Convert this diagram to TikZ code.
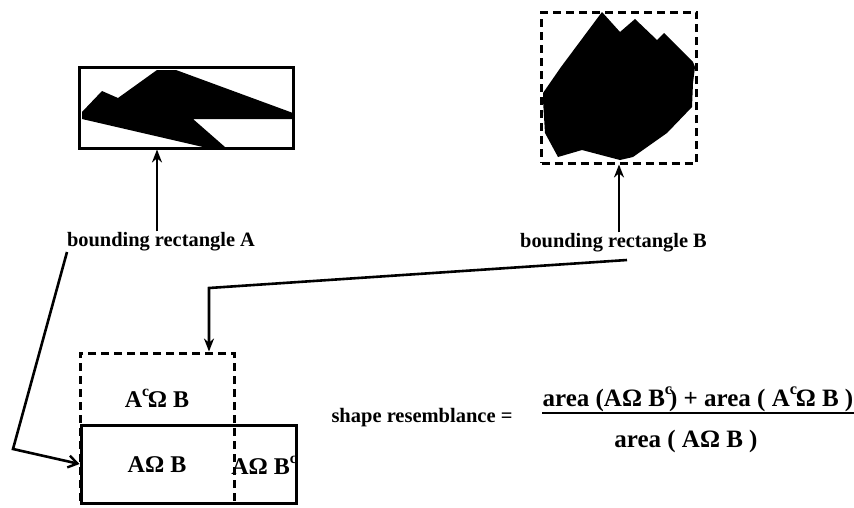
\documentclass[tikz,border=0pt]{standalone}
\usepackage{fontspec}
\setmainfont{Liberation Serif}
\usetikzlibrary{arrows.meta}

\newcommand{\capsym}{Ω}
% raised complement mark
\newcommand{\csup}{\raisebox{0.45em}{\fontsize{0.65em}{0.75em}\selectfont c}}
% raised complement mark that takes no width
\newcommand{\cmark}{\rlap{\raisebox{0.45em}{\fontsize{0.65em}{0.75em}\selectfont c}}}

\begin{document}
\begin{tikzpicture}[x=1pt,y=-1pt,
  frame/.style={draw, line width=3pt, inner sep=0pt},
  dashframe/.style={draw, line width=3pt, dash pattern=on 8pt off 5pt, inner sep=0pt},
  blob/.style={fill=black},
  lead/.style={line width=2.6pt, -{Stealth[length=13pt,width=10pt]}},
  barb/.style={line width=2.6pt, -{Straight Barb[length=9pt,width=12pt,line width=2.4pt]}},
  lbl/.style={font=\fontsize{20.4}{24}\selectfont\bfseries, inner sep=1pt},
  region/.style={font=\fontsize{24}{28}\selectfont\bfseries, inner sep=0pt},
  eqtext/.style={font=\fontsize{20.5}{24}\selectfont\bfseries, inner sep=0pt},
  fractext/.style={font=\fontsize{25}{30}\selectfont\bfseries, inner sep=0pt, anchor=base}]
\useasboundingbox (0,0) rectangle (854,507);

% shape A inside its bounding rectangle
\fill[blob] (82,112) -- (102,91) -- (118,98) -- (157,70) -- (176,70)
  -- (293,113) -- (293,119) -- (193,119) -- (225,147) -- (203,147)
  -- (82,119) -- cycle;
\node[frame, minimum width=214pt, minimum height=81pt] (rectA) at (186,107.5) {};

% shape B inside its bounding rectangle
\fill[blob] (602,12) -- (620,32) -- (635,19) -- (657,40) -- (664,33)
  -- (693,62) -- (695,67) -- (693,83) -- (692,107) -- (667,133)
  -- (633,157) -- (620,160) -- (582,150) -- (558,157) -- (545,133)
  -- (543,100) -- (543,93) -- (561,67) -- cycle;
\node[dashframe, minimum width=155pt, minimum height=151pt] (rectB) at (619,87.5) {};

% labels of the two rectangles
\node[lbl] (labA) at (161,242) {bounding rectangle A};
\node[lbl] (labB) at (613.5,243) {bounding rectangle B};
\draw[lead] ([xshift=-4pt]labA.north) -- ([xshift=-4pt]labA.north |- rectA.south);
\draw[lead] (rectB.south |- labB.north) -- (rectB.south);

% overlaid rectangles
\node[frame, minimum width=215pt, minimum height=78pt] (rectA2) at (188.5,464) {};
\node[dashframe, minimum width=154pt, minimum height=150pt] (rectB2) at (157,428) {};

\node[region] (ac) at (157,398) {A\csup\kern-0.05em\capsym\ B};
\node[region] (ab) at (157,465) {A\capsym\ B};
\node[region] (bc) at (264,465) {A\capsym\ B\csup};

% leaders to the overlay
\coordinate (startA) at (67,252);
\coordinate (kneeA) at (13,449);
\draw[barb] (startA) -- (kneeA) -- (rectA2.west);
\coordinate (startB) at (627,260);
\coordinate (kneeB) at (209,288);
\draw[lead] (startB) -- (kneeB) -- (kneeB |- rectB2.north);

% formula
\node[eqtext] (sr) at (422,418) {shape resemblance =};
\node[fractext] (num) at (698,406) {area (A\capsym\ B\cmark\,) + area ( A\csup\kern-0.05em\capsym\ B )};
\node[fractext] (den) at (686,447) {area ( A\capsym\ B )};
\draw[line width=2pt] ([yshift=-7pt]num.base west) -- ([yshift=-7pt]num.base east);
\end{tikzpicture}
\end{document}
